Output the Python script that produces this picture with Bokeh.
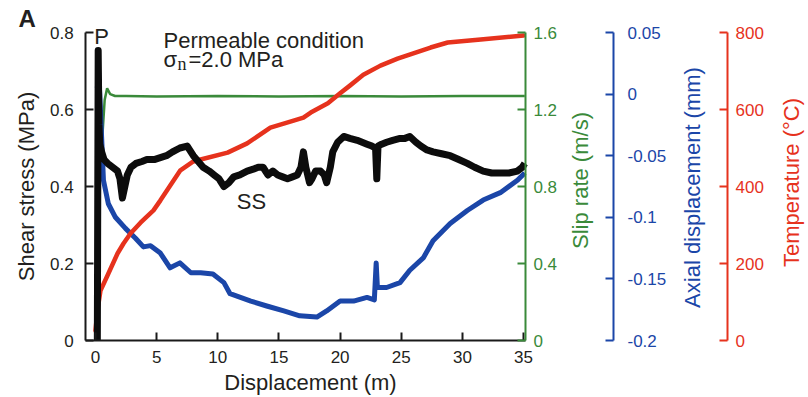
import math
from bokeh.plotting import figure
from bokeh.models import Range1d, LinearAxis, FixedTicker, Label, CustomJSTickFormatter
from bokeh.embed import file_html
from bokeh.resources import INLINE

# ---------------- data ----------------
disp_ss = [0.15, 0.22, 0.28, 0.35, 0.5, 0.7, 1.0, 1.4, 1.8, 2.0, 2.2, 2.4, 2.6, 2.9, 3.3, 3.8,
           4.2, 4.8, 5.3, 5.8, 6.3, 6.9, 7.5, 8.0, 8.4, 8.8, 9.3, 9.7, 10.1, 10.5, 10.9, 11.3,
           11.8, 12.4, 12.9, 13.3, 13.7, 14.1, 14.5, 14.9, 15.3, 15.7, 16.1, 16.5, 16.8, 17.0,
           17.2, 17.5, 17.7, 18.0, 18.4, 18.7, 18.9, 19.2, 19.4, 19.8, 20.3, 20.8, 21.4, 21.8,
           22.2, 22.6, 22.9, 23.0, 23.1, 23.4, 23.8, 24.3, 24.9, 25.3, 25.7, 26.2, 26.6, 27.1,
           27.6, 28.3, 29.0, 29.7, 30.4, 31.0, 31.7, 32.4, 33.1, 33.8, 34.5, 34.9, 35.1]
shear = [0.0, 0.753, 0.56, 0.51, 0.49, 0.47, 0.46, 0.45, 0.44, 0.42, 0.37, 0.40, 0.43, 0.45,
         0.46, 0.465, 0.47, 0.47, 0.475, 0.48, 0.49, 0.50, 0.505, 0.48, 0.465, 0.45, 0.44, 0.43,
         0.42, 0.40, 0.41, 0.425, 0.43, 0.44, 0.445, 0.45, 0.45, 0.43, 0.44, 0.43, 0.425, 0.42,
         0.425, 0.43, 0.45, 0.49, 0.45, 0.41, 0.42, 0.44, 0.44, 0.43, 0.41, 0.45, 0.49, 0.515,
         0.53, 0.525, 0.52, 0.515, 0.51, 0.505, 0.50, 0.42, 0.505, 0.51, 0.515, 0.52, 0.525,
         0.525, 0.53, 0.515, 0.505, 0.495, 0.49, 0.485, 0.48, 0.47, 0.46, 0.45, 0.44, 0.435,
         0.435, 0.435, 0.44, 0.45, 0.46]

disp_sr = [0.2, 0.25, 0.3, 0.4, 0.55, 0.75, 0.95, 1.2, 1.6, 2.5, 5, 10, 15, 20, 25, 30, 35.1]
slip = [0.0, 0.4, 0.8, 0.95, 1.05, 1.25, 1.31, 1.28, 1.27, 1.27, 1.268, 1.27, 1.268, 1.27,
        1.268, 1.27, 1.27]

disp_ax = [0.15, 0.25, 0.35, 0.5, 0.65, 1.05, 1.63, 2.45, 3.27, 3.92, 4.5, 5.3, 6.1, 6.9, 7.8,
           8.6, 9.6, 10.5, 11.0, 12.7, 14.0, 15.4, 16.7, 18.1, 18.9, 20.0, 21.1, 22.2, 22.8,
           22.95, 23.05, 23.8, 24.9, 25.7, 26.8, 27.6, 29.0, 30.4, 31.7, 33.1, 34.5, 35.1]
axial = [0.005, 0.018, 0.0, -0.035, -0.07, -0.089, -0.100, -0.109, -0.117, -0.124, -0.123,
         -0.129, -0.141, -0.137, -0.145, -0.145, -0.146, -0.153, -0.162, -0.168, -0.172,
         -0.176, -0.180, -0.181, -0.176, -0.168, -0.168, -0.165, -0.167, -0.137, -0.157,
         -0.157, -0.153, -0.143, -0.133, -0.119, -0.105, -0.0945, -0.086, -0.080, -0.070, -0.064]

disp_T = [0.0, 0.16, 0.41, 0.98, 1.8, 2.29, 2.86, 3.68, 4.74, 5.31, 6.94, 8.0, 8.6, 10.8, 12.4,
          14.3, 16.2, 17.0, 17.6, 19.0, 20.0, 20.8, 21.9, 23.3, 24.7, 27.4, 28.8, 31.5, 35.0]
temp = [26, 78, 130, 169, 226, 252, 278, 306, 338, 364, 442, 465, 470, 488, 512, 553, 571,
        579, 592, 616, 642, 662, 690, 714, 732, 761, 774, 782, 792]

x_ticks = [0, 5, 10, 15, 20, 25, 30, 35]
shear_ticks = [0, 0.2, 0.4, 0.6, 0.8]
slip_ticks = [0, 0.4, 0.8, 1.2, 1.6]
axial_ticks = [-0.2, -0.15, -0.1, -0.05, 0, 0.05]
temp_ticks = [0, 200, 400, 600, 800]

x_lim = (-0.8, 35.15)
shear_lim = (0, 0.8)
slip_lim = (0, 1.6)
axial_lim = (-0.2, 0.05)
temp_lim = (0, 800)

# ---------------- geometry (pixels) ----------------
W, H = 808, 397
PX0, SX = 95.0, 12.23          # pixel of x = 0, pixels per metre
PY_BOT, PY_TOP = 340.0, 32.0   # pixel rows of the bottom / top of every y axis
X_BLUE_PX, X_RED_PX = 613.0, 727.0
TEXT_SHIFT = 7                 # baseline correction for alphabetic-baseline texts


def fx(px):
    return (px - PX0) / SX


def yrange(lim):
    per_px = (lim[1] - lim[0]) / (PY_BOT - PY_TOP)
    return Range1d(lim[0] - (H - PY_BOT) * per_px, lim[0] + PY_BOT * per_px)


def fy(py):
    return shear_lim[0] + (PY_BOT - py) * (shear_lim[1] - shear_lim[0]) / (PY_BOT - PY_TOP)


# ---------------- styling ----------------
FONT = "Liberation Sans"
TXT = "#231f20"
GREEN = "#3a8a3a"
BLUE = "#1b46a8"
RED = "#e6321d"
BLACK = "#0c0c0c"
TICK_FS = "17px"
LAB_FS = "22px"

fmt = CustomJSTickFormatter(code="return (Math.round(tick*1000)/1000).toString();")

p = figure(width=W, height=H, output_backend="svg", toolbar_location=None,
           x_range=Range1d(fx(0), fx(W)), y_range=yrange(shear_lim),
           min_border=0, min_border_left=0, min_border_right=0, min_border_top=0,
           min_border_bottom=0)
p.outline_line_color = None
p.xgrid.visible = False
p.ygrid.visible = False
p.background_fill_color = "white"
p.border_fill_color = "white"

p.extra_y_ranges = {"slip": yrange(slip_lim), "ax": yrange(axial_lim), "temp": yrange(temp_lim)}


def style(ax, color, text_color, ticks, standoff):
    ax.ticker = FixedTicker(ticks=ticks)
    ax.formatter = fmt
    ax.axis_line_color = color
    ax.axis_line_width = 2
    ax.major_tick_line_color = color
    ax.major_tick_line_width = 2
    ax.major_tick_in = 8
    ax.major_tick_out = 0
    ax.minor_tick_line_color = None
    ax.major_label_text_font = FONT
    ax.major_label_text_font_size = TICK_FS
    ax.major_label_text_color = text_color
    ax.major_label_standoff = standoff


# bottom axis, drawn at shear = 0
xa = p.xaxis[0]
style(xa, "#1a1a1a", TXT, x_ticks, 10)
xa.fixed_location = 0
xa.bounds = x_lim

# left axis, drawn at the left edge of the plotting area
ya = p.yaxis[0]
style(ya, "#1a1a1a", TXT, shear_ticks, 12)
ya.fixed_location = x_lim[0]
ya.bounds = shear_lim

ax_slip = LinearAxis(y_range_name="slip", fixed_location=x_lim[1], bounds=slip_lim)
style(ax_slip, GREEN, GREEN, slip_ticks, 8)
p.add_layout(ax_slip, "right")

ax_ax = LinearAxis(y_range_name="ax", fixed_location=fx(X_BLUE_PX), bounds=axial_lim)
style(ax_ax, BLUE, BLUE, axial_ticks, 14)
p.add_layout(ax_ax, "right")

ax_t = LinearAxis(y_range_name="temp", fixed_location=fx(X_RED_PX), bounds=temp_lim)
style(ax_t, RED, RED, temp_ticks, 8)
p.add_layout(ax_t, "right")

# ---------------- series ----------------
p.line(disp_sr, slip, y_range_name="slip", line_color=GREEN, line_width=2.5)
p.line(disp_ax, axial, y_range_name="ax", line_color=BLUE, line_width=5, line_join="round")
p.line(disp_T, temp, y_range_name="temp", line_color=RED, line_width=4.5, line_join="round",
       line_cap="round")
p.line(disp_ss, shear, line_color=BLACK, line_width=7, line_join="round")


# ---------------- texts ----------------
def lab(px, py, text, size=LAB_FS, font=FONT, style_="normal", x_offset=0, y_offset=0,
        align="left", baseline="alphabetic", color=TXT, angle=0.0):
    if baseline == "alphabetic":
        y_offset += TEXT_SHIFT
    p.add_layout(Label(x=fx(px), y=fy(py), text=text, text_font=font, text_font_size=size,
                       text_font_style=style_, text_color=color, text_align=align,
                       text_baseline=baseline, x_offset=x_offset, y_offset=y_offset,
                       angle=angle))


# axis titles
lab(26, 186, "Shear stress (MPa)", align="center", baseline="middle", angle=math.pi / 2)
lab(310, 382, "Displacement (m)", align="center", baseline="middle")
lab(580, 180, "Slip rate (m/s)", align="center", baseline="middle", angle=math.pi / 2,
    color=GREEN)
lab(692, 187, "Axial displacement (mm)", align="center", baseline="middle",
    angle=math.pi / 2, color=BLUE)
lab(791, 182, "Temperature (\u00b0C)", align="center", baseline="middle",
    angle=math.pi / 2, color=RED)

# annotations
lab(18, 25, "A", size="24px", style_="bold")
lab(101, 43, "P", align="center")
lab(163, 47, "Permeable condition")
lab(163, 66, "\u03c3")
lab(163, 66, "n", size="18px", font="Liberation Serif", x_offset=14, y_offset=-4)
lab(163, 66, "=2.0 MPa", x_offset=25)
lab(251, 208, "SS", align="center")

open("out.html", "w").write(file_html(p, INLINE))
